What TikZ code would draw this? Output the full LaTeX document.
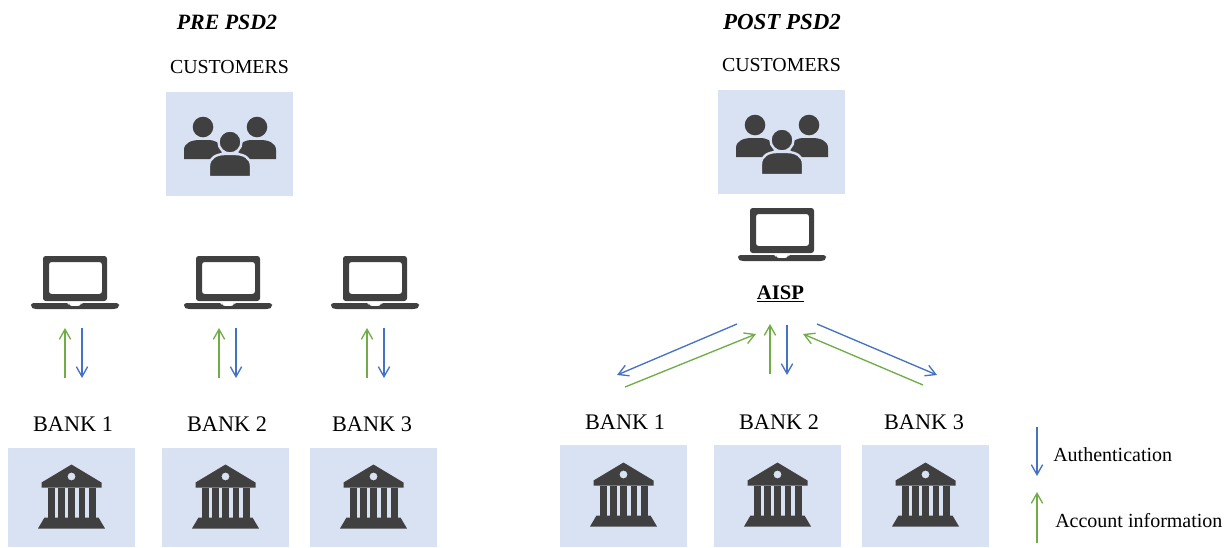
\documentclass[tikz,border=0pt]{standalone}
\usepackage{fontspec}
\setmainfont{Liberation Serif}
\usetikzlibrary{arrows.meta}
\definecolor{boxblue}{HTML}{D9E2F3}
\definecolor{icongrey}{HTML}{404040}
\definecolor{authblue}{HTML}{4472C4}
\definecolor{infogreen}{HTML}{70AD47}
\tikzset{
    iconbox/.style={fill=boxblue, minimum width=95.25pt, inner sep=0pt},
    authline/.style={draw=authblue, line width=1pt, -{Straight Barb[length=7.5pt,width=8.5pt,line width=1pt]}},
    infoline/.style={draw=infogreen, line width=1pt, -{Straight Barb[length=7.5pt,width=8.5pt,line width=1pt]}},
    title/.style={font=\fontsize{16.4}{18}\selectfont\bfseries\itshape},
    label/.style={font=\fontsize{14.9}{18}\selectfont},
    banklabel/.style={font=\fontsize{16.7}{20}\selectfont},
    legend/.style={font=\fontsize{15}{18}\selectfont, anchor=west},
    people/.pic={
        \fill[icongrey] (-26.5,-17) circle (10.3);
        \fill[icongrey] (27.5,-17) circle (10.3);
        \fill[icongrey] (-45.5,15) -- (-45.5,6) .. controls (-45.5,-1) and (-38,-4) .. (-30,-4) -- (-22,-4) .. controls (-14,-4) and (-8,-1) .. (-8,6) -- (-8,15) -- cycle;
        \fill[icongrey] (46.5,15) -- (46.5,6) .. controls (46.5,-1) and (39,-4) .. (31,-4) -- (23,-4) .. controls (15,-4) and (9,-1) .. (9,6) -- (9,15) -- cycle;
        \filldraw[fill=icongrey, draw=boxblue, line width=1.8pt] (0.5,-2) circle (11.5);
        \filldraw[fill=icongrey, draw=boxblue, line width=1.8pt] (-20.5,33) -- (-20.5,22) .. controls (-20.5,14) and (-13,10) .. (-5,10) -- (6,10) .. controls (14,10) and (21.5,14) .. (21.5,22) -- (21.5,33) -- cycle;
    },
    laptop/.pic={
        \fill[icongrey, even odd rule, rounded corners=2] (-32,-26) rectangle (32,19) (-26,-20) rectangle (27,12);
        \fill[icongrey, rounded corners=2] (-44,21) -- (-6,21) -- (-6,24) -- (6,24) -- (6,21) -- (44,21) -- (44,25) -- (41,27) -- (-41,27) -- (-44,25) -- cycle;
    },
    bank/.pic={
        \fill[icongrey, even odd rule] (0,-33) -- (30,-15) -- (30,-10) -- (-30,-10) -- (-30,-15) -- cycle (4,-21) arc[start angle=0, end angle=360, radius=4];
        \fill[icongrey] (-24,-10) rectangle (-17,20);
        \fill[icongrey] (-13.5,-10) rectangle (-7,20);
        \fill[icongrey] (-3.5,-10) rectangle (3.5,20);
        \fill[icongrey] (7,-10) rectangle (13.5,20);
        \fill[icongrey] (17,-10) rectangle (24,20);
        \fill[icongrey] (-27,20) -- (27,20) -- (33.5,31) -- (-33.5,31) -- cycle;
    }
}
\begin{document}
\begin{tikzpicture}[x=0.75pt, y=-0.75pt]
    \useasboundingbox (0,0) rectangle (1231,547);

    % pre psd2
    \node[title] (pretitle) at (227,22) {PRE PSD2};
    \node[label] (precust) at (229.5,67) {CUSTOMERS};
    \node[iconbox, minimum height=78pt] (prebox) at (229.5,144) {};
    \pic at (229.5,144) {people};

    \pic at (75,282) {laptop};
    \pic at (228,282) {laptop};
    \pic at (375,282) {laptop};

    \coordinate (preup1a) at (65,378);
    \coordinate (preup1b) at (65,328);
    \coordinate (predown1a) at (82,328);
    \coordinate (predown1b) at (82,378);
    \coordinate (preup2a) at (219,378);
    \coordinate (preup2b) at (219,328);
    \coordinate (predown2a) at (236,328);
    \coordinate (predown2b) at (236,378);
    \coordinate (preup3a) at (367,378);
    \coordinate (preup3b) at (367,328);
    \coordinate (predown3a) at (384,328);
    \coordinate (predown3b) at (384,378);
    \draw[infoline] (preup1a) -- (preup1b);
    \draw[authline] (predown1a) -- (predown1b);
    \draw[infoline] (preup2a) -- (preup2b);
    \draw[authline] (predown2a) -- (predown2b);
    \draw[infoline] (preup3a) -- (preup3b);
    \draw[authline] (predown3a) -- (predown3b);

    \node[banklabel] (prebank1) at (73,424) {BANK 1};
    \node[banklabel] (prebank2) at (227,424) {BANK 2};
    \node[banklabel] (prebank3) at (372,424) {BANK 3};
    \node[iconbox, minimum height=74.25pt] (prebox1) at (71.5,497.5) {};
    \node[iconbox, minimum height=74.25pt] (prebox2) at (225.5,497.5) {};
    \node[iconbox, minimum height=74.25pt] (prebox3) at (373.5,497.5) {};
    \pic at (71.5,497.5) {bank};
    \pic at (225.5,497.5) {bank};
    \pic at (373.5,497.5) {bank};

    % post psd2
    \node[title, font=\fontsize{17.2}{18}\selectfont\bfseries\itshape] (posttitle) at (782,22) {POST PSD2};
    \node[label] (postcust) at (781.5,65) {CUSTOMERS};
    \node[iconbox, minimum height=78pt] (postbox) at (781.5,142) {};
    \pic at (781.5,142) {people};
    \pic at (782,234) {laptop};
    \node[font=\fontsize{15.5}{18}\selectfont\bfseries] (aisp) at (780.5,294) {\underline{AISP}};

    \coordinate (blue1a) at (737,324);
    \coordinate (blue1b) at (617,375);
    \coordinate (green1a) at (625,387);
    \coordinate (green1b) at (756,334);
    \coordinate (green2a) at (770,374);
    \coordinate (green2b) at (770,324);
    \coordinate (blue2a) at (787,325);
    \coordinate (blue2b) at (787,375);
    \coordinate (blue3a) at (817,324);
    \coordinate (blue3b) at (937,375);
    \coordinate (green3a) at (923,385);
    \coordinate (green3b) at (803,334);
    \draw[authline] (blue1a) -- (blue1b);
    \draw[infoline] (green1a) -- (green1b);
    \draw[infoline] (green2a) -- (green2b);
    \draw[authline] (blue2a) -- (blue2b);
    \draw[authline] (blue3a) -- (blue3b);
    \draw[infoline] (green3a) -- (green3b);

    \node[banklabel] (postbank1) at (625,422) {BANK 1};
    \node[banklabel] (postbank2) at (779,422) {BANK 2};
    \node[banklabel] (postbank3) at (924,422) {BANK 3};
    \node[iconbox, minimum height=76.5pt] (postbox1) at (623.5,496) {};
    \node[iconbox, minimum height=76.5pt] (postbox2) at (777.5,496) {};
    \node[iconbox, minimum height=76.5pt] (postbox3) at (925.5,496) {};
    \pic at (623.5,495.5) {bank};
    \pic at (777.5,495.5) {bank};
    \pic at (925.5,495.5) {bank};

    % legend
    \coordinate (keyblue1) at (1037,427);
    \coordinate (keyblue2) at (1037,476);
    \coordinate (keygreen1) at (1037,543);
    \coordinate (keygreen2) at (1037,492);
    \draw[authline] (keyblue1) -- (keyblue2);
    \draw[infoline] (keygreen1) -- (keygreen2);
    \node[legend, inner sep=0pt] (keyauth) at (1053,455) {Authentication};
    \node[legend, inner sep=0pt] (keyinfo) at (1055,521) {Account information};
\end{tikzpicture}
\end{document}
